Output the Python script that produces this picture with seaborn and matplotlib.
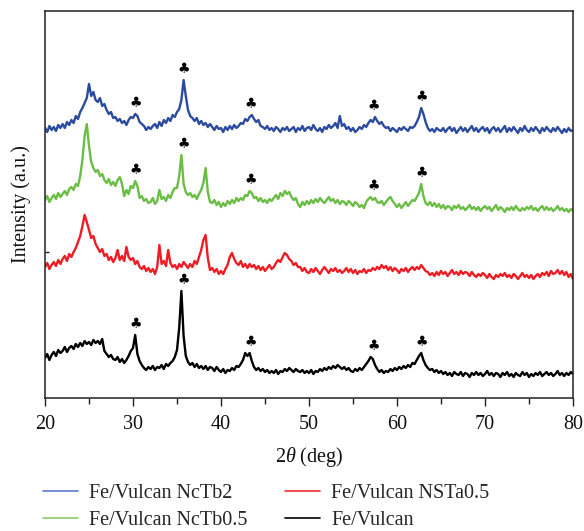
import numpy as np
import pandas as pd
import matplotlib
matplotlib.use("Agg")
import matplotlib.pyplot as plt
import seaborn as sns

# 2theta scan grid (deg), 0.25 deg step
two_theta = np.linspace(20, 80, 241)

samples = ["Fe/Vulcan NcTb2", "Fe/Vulcan NcTb0.5", "Fe/Vulcan NSTa0.5", "Fe/Vulcan"]
colors = ["#2B4C9E", "#6ABD45", "#EE1C24", "#000000"]

# intensities (a.u., offset traces as drawn)
blue_ncTb2 = [
    270, 266, 272, 268, 271, 267, 273, 270, 274, 270, 276, 273, 278, 275, 282, 279,
    286, 290, 295, 300, 314, 302, 306, 298, 296, 300, 292, 294, 288, 284, 286, 280,
    281, 277, 279, 275, 277, 273, 278, 281, 280, 284, 282, 276, 274, 272, 268, 271,
    269, 272, 274, 270, 276, 272, 278, 275, 280, 277, 283, 281, 286, 289, 298, 318,
    302, 288, 282, 280, 277, 280, 274, 277, 273, 275, 271, 274, 271, 268, 272, 269,
    270, 266, 271, 268, 272, 269, 273, 270, 272, 275, 274, 279, 277, 281, 283, 279,
    276, 278, 272, 271, 269, 272, 268, 270, 267, 271, 269, 266, 270, 268, 271, 267,
    269, 271, 266, 270, 268, 272, 267, 270, 271, 268, 273, 269, 267, 270, 266, 271,
    269, 273, 270, 272, 275, 270, 282, 272, 274, 269, 271, 267, 270, 266, 268, 271,
    269, 273, 271, 275, 278, 276, 281, 277, 274, 276, 272, 270, 271, 267, 270, 268,
    266, 270, 268, 271, 269, 267, 271, 270, 272, 276, 281, 290, 284, 276, 270, 267,
    269, 266, 270, 268, 267, 270, 266, 269, 271, 267, 270, 265, 268, 271, 267, 270,
    266, 269, 272, 267, 270, 266, 269, 271, 267, 270, 265, 269, 271, 267, 270, 266,
    269, 272, 266, 270, 267, 271, 268, 265, 270, 267, 272, 268, 266, 270, 267, 271,
    268, 265, 270, 267, 271, 268, 266, 270, 267, 271, 268, 265, 269, 266, 270, 267,
    268,
]

green_ncTb05 = [
    198, 202, 196, 200, 203, 199, 205, 201, 204, 207, 203, 209, 211, 208, 214, 212,
    222, 238, 262, 274, 252, 236, 230, 226, 228, 222, 224, 218, 215, 219, 213, 216,
    212, 218, 221, 214, 202, 208, 204, 212, 210, 217, 212, 200, 202, 197, 199, 195,
    196, 200, 194, 197, 208, 199, 201, 197, 203, 200, 206, 210, 210, 222, 243, 214,
    206, 203, 205, 201, 203, 199, 204, 208, 215, 230, 206, 196, 195, 198, 193, 196,
    191, 195, 192, 197, 194, 198, 195, 200, 197, 200, 198, 203, 202, 207, 205, 200,
    201, 197, 200, 196, 198, 195, 199, 197, 200, 203, 199, 205, 202, 207, 204, 206,
    201, 198, 200, 194, 191, 196, 193, 197, 194, 198, 195, 199, 196, 200, 197, 195,
    198, 201, 197, 199, 195, 198, 194, 197, 196, 193, 197, 195, 192, 196, 194, 191,
    193, 190, 196, 199, 201, 198, 200, 196, 195, 197, 193, 196, 199, 201, 197, 194,
    191, 194, 190, 193, 196, 192, 195, 198, 197, 201, 205, 214, 202, 195, 193, 196,
    192, 195, 191, 194, 190, 193, 189, 192, 191, 188, 192, 190, 193, 189, 191, 188,
    190, 193, 189, 191, 188, 191, 187, 190, 192, 189, 191, 187, 190, 193, 188, 191,
    189, 186, 190, 188, 191, 188, 192, 189, 187, 190, 188, 191, 189, 192, 188, 190,
    187, 190, 192, 188, 191, 188, 190, 187, 189, 192, 188, 190, 187, 189, 186, 189,
    187,
]

red_NSTa05 = [
    131, 135, 129, 133, 136, 132, 138, 134, 139, 142, 137, 144, 141, 146, 150, 156,
    162, 172, 183, 176, 168, 160, 162, 154, 150, 146, 149, 142, 144, 138, 141, 136,
    140, 148, 138, 142, 137, 151, 141, 138, 140, 134, 137, 131, 129, 132, 127, 130,
    126, 129, 124, 131, 153, 134, 137, 132, 148, 135, 131, 133, 129, 134, 131, 136,
    133, 130, 134, 131, 137, 134, 141, 148, 158, 163, 140, 128, 130, 126, 129, 124,
    127, 124, 129, 133, 141, 145, 139, 135, 133, 137, 131, 134, 130, 134, 131, 133,
    129, 132, 128, 131, 127, 130, 133, 129, 131, 135, 138, 136, 141, 145, 143, 139,
    137, 133, 135, 131, 131, 127, 130, 126, 125, 129, 126, 130, 127, 124, 128, 131,
    128, 125, 129, 127, 130, 126, 128, 125, 127, 130, 126, 129, 125, 128, 124, 127,
    126, 129, 125, 128, 127, 130, 128, 131, 129, 133, 130, 132, 128, 131, 127, 130,
    128, 125, 129, 127, 130, 126, 129, 131, 128, 131, 129, 133, 130, 127, 126, 123,
    125, 122, 126, 123, 127, 124, 126, 122, 125, 128, 124, 126, 123, 127, 124, 126,
    125, 122, 126, 123, 121, 124, 122, 125, 123, 120, 124, 121, 119, 123, 121, 124,
    122, 125, 121, 123, 120, 124, 122, 119, 122, 125, 121, 123, 120, 123, 119, 122,
    124, 121, 125, 123, 126, 122, 127, 124, 125, 128, 124, 127, 123, 126, 121, 124,
    119,
]

black_vulcan = [
    40, 44, 38, 43, 46, 42, 48, 45, 47, 51, 46, 50, 52, 49, 54, 51,
    55, 52, 57, 54, 56, 53, 58, 55, 57, 54, 59, 47, 44, 41, 43, 39,
    38, 41, 36, 39, 35, 38, 42, 47, 50, 63, 44, 37, 33, 30, 28, 31,
    29, 32, 28, 31, 30, 33, 29, 34, 32, 35, 37, 41, 48, 70, 107, 62,
    42, 36, 33, 35, 31, 34, 30, 32, 29, 32, 28, 31, 30, 27, 31, 28,
    26, 29, 25, 28, 27, 30, 28, 32, 31, 34, 38, 45, 42, 45, 37, 31,
    28, 30, 27, 29, 26, 28, 25, 27, 25, 28, 24, 27, 26, 29, 27, 30,
    28, 26, 29, 27, 26, 28, 25, 27, 25, 28, 24, 27, 26, 29, 27, 30,
    28, 31, 29, 32, 30, 33, 31, 29, 31, 28, 30, 27, 26, 29, 27, 30,
    28, 31, 34, 37, 41, 39, 33, 29, 26, 28, 25, 27, 26, 29, 27, 30,
    28, 31, 29, 32, 30, 33, 31, 35, 34, 38, 42, 45, 38, 33, 30, 28,
    29, 26, 28, 25, 27, 24, 26, 23, 25, 22, 26, 24, 23, 26, 22, 25,
    24, 21, 25, 23, 26, 23, 25, 22, 24, 27, 23, 25, 22, 25, 24, 21,
    25, 23, 26, 22, 24, 21, 25, 23, 22, 26, 23, 25, 21, 24, 22, 25,
    23, 26, 22, 24, 26, 23, 25, 22, 24, 27, 23, 25, 22, 25, 23, 26,
    24,
]

series = [blue_ncTb2, green_ncTb05, red_NSTa05, black_vulcan]

# Fe-phase reflections marked with clubs
club_peaks = [30.3, 35.8, 43.4, 57.3, 62.8]
club_series = [0, 1, 3]

df = pd.concat(
    [pd.DataFrame({"2theta": two_theta, "I": vals, "sample": name})
     for name, vals in zip(samples, series)],
    ignore_index=True,
)

sns.set_theme(style="white")
plt.rcParams["font.family"] = ["Liberation Serif", "DejaVu Serif"]
plt.rcParams["mathtext.fontset"] = "custom"
plt.rcParams["mathtext.it"] = "Liberation Serif:italic"
plt.rcParams["mathtext.rm"] = "Liberation Serif"

fig = plt.figure(figsize=(5.84, 5.31), dpi=100)
ax = fig.add_axes([45 / 584, 1 - 398 / 531, 528 / 584, 387 / 531])

sns.lineplot(data=df, x="2theta", y="I", hue="sample", hue_order=samples,
             palette=colors, linewidth=1.7, ax=ax, legend=False, sort=False)

for si in club_series:
    vals = np.asarray(series[si])
    for p in club_peaks:
        m = vals[(two_theta >= p - 0.6) & (two_theta <= p + 0.6)].max()
        ax.text(p, m + 11, "\u2663", ha="center", va="center", fontsize=10,
                family="DejaVu Sans", color="black")

ax.set_xlim(20, 80)
ax.set_ylim(0, 387)
ax.set_xticks([20, 30, 40, 50, 60, 70, 80])
ax.set_xticks([25, 35, 45, 55, 65, 75], minor=True)
ax.set_yticks([146])
ax.set_yticklabels([])
ax.tick_params(axis="x", which="major", direction="out", length=6, width=1,
               labelsize=14.5, pad=6, bottom=True, colors="#222222")
ax.tick_params(axis="x", which="minor", direction="out", length=4, width=1,
               bottom=True, colors="#222222")
ax.tick_params(axis="y", direction="in", length=3, width=1, left=True)
for t in ax.get_xticklabels():
    t.set_color("#111111")

for s in ax.spines.values():
    s.set_color("#222222")
    s.set_linewidth(1.1)

ax.set_xlabel(r"2$\theta$ (deg)", fontsize=14.5, color="#111111")
ax.xaxis.set_label_coords(0.5, -0.122)
ax.set_ylabel("Intensity (a.u.)", fontsize=14.5, color="#111111")
ax.yaxis.set_label_coords(-0.026, 0.5)

handles = [plt.Line2D([], [], color=c, lw=1.2) for c in ["#5B7CC8", "#8CCB6A", "#F03030", "#000000"]]
fig.legend(handles, samples, ncol=2, loc="upper left",
           bbox_to_anchor=(43 / 584, 1 - 484 / 531), frameon=False,
           fontsize=14.5, handlelength=1.75, handletextpad=0.55,
           columnspacing=1.85, labelspacing=0.38, borderpad=0, borderaxespad=0)

fig.savefig("out.png", dpi=100)
